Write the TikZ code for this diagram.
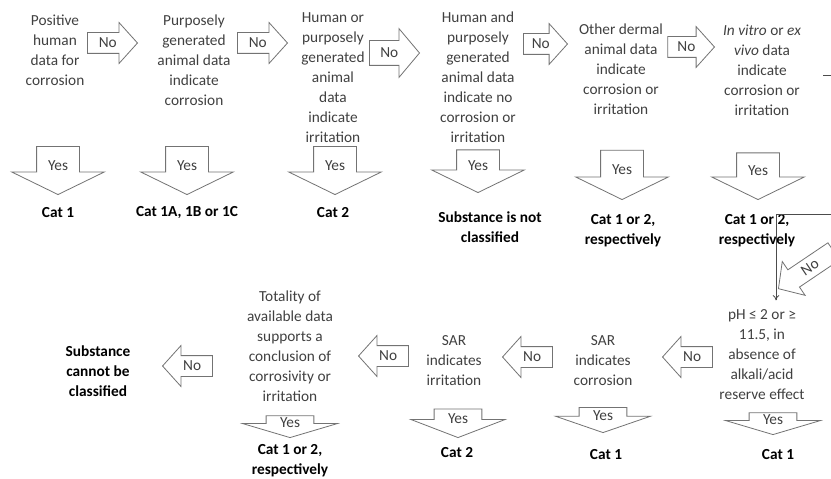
\documentclass[tikz,border=0pt]{standalone}
\usepackage{fontspec}
\setmainfont{Carlito}
\usetikzlibrary{shapes.arrows,arrows.meta}
\definecolor{qgray}{RGB}{64,64,64}
\definecolor{agray}{RGB}{115,115,115}
\newcommand\qfont{\fontsize{11.5pt}{15pt}\selectfont}

\begin{document}
\begin{tikzpicture}[x=0.75pt, y=-0.75pt,
    qtext/.style={align=center, text=qgray, font=\qfont, inner sep=0pt},
    restext/.style={align=center, font=\qfont\bfseries, inner sep=0pt},
    blockarrow/.style={single arrow, draw=agray, fill=white, line width=0.6pt,
        text=qgray, font=\qfont, align=center, text height=7pt, text depth=0pt, anchor=tip},
    noarrow/.style={blockarrow, text width=14pt, inner xsep=2pt, inner ysep=4pt,
        single arrow head extend=7.5pt, single arrow tip angle=96, minimum height=37.5pt},
    yesarrow/.style={blockarrow, shape border rotate=270, text width=16pt,
        inner xsep=7.75pt, inner ysep=2pt, single arrow head extend=18.75pt,
        single arrow tip angle=128, minimum height=36pt},
    lowyes/.style={blockarrow, shape border rotate=270, text width=16pt,
        inner xsep=9.6pt, inner ysep=2.5pt, single arrow head extend=17.6pt,
        single arrow tip angle=147}
]
    \useasboundingbox (0,0) rectangle (831,478);

    % questions, upper row
    \node (human) [qtext] at (55,50) {Positive\\human\\data for\\corrosion};
    \node (animal) [qtext] at (194,60) {Purposely\\generated\\animal data\\indicate\\corrosion};
    \node (irritation) [qtext] at (333,78) {Human or\\purposely\\generated\\animal\\data\\indicate\\irritation};
    \node (noeffect) [qtext] at (478,77) {Human and\\purposely\\generated\\animal data\\indicate no\\corrosion or\\irritation};
    \node (dermal) [qtext] at (621,69) {Other dermal\\animal data\\indicate\\corrosion or\\irritation};
    \node (invitro) [qtext] at (762,70) {\textit{In vitro} or \textit{ex}\\\textit{vivo} data\\indicate\\corrosion or\\irritation};

    % results, upper row
    \node (human_res) [restext] at (58,213) {Cat 1};
    \node (animal_res) [restext] at (187,213) {Cat 1A, 1B or 1C};
    \node (irritation_res) [restext] at (333,213) {Cat 2};
    \node (noeffect_res) [restext] at (490,227) {Substance is not\\classified};
    \node (dermal_res) [restext] at (623,231) {Cat 1 or 2,\\respectively};
    \node (invitro_res) [restext] at (757,231) {Cat 1 or 2,\\respectively};

    % questions, lower row
    \node (ph) [qtext] at (762,355) {pH ≤ 2 or ≥\\11.5, in\\absence of\\alkali/acid\\reserve effect};
    \node (sar_corr) [qtext] at (603,361) {SAR\\indicates\\corrosion};
    \node (sar_irr) [qtext] at (454,361) {SAR\\indicates\\irritation};
    \node (totality) [qtext] at (290,346) {Totality of\\available data\\supports a\\conclusion of\\corrosivity or\\irritation};
    \node (unclassified) [restext] at (98,371) {Substance\\cannot be\\classified};

    % results, lower row
    \node (ph_res) [restext] at (778,455) {Cat 1};
    \node (sar_corr_res) [restext] at (606,455) {Cat 1};
    \node (sar_irr_res) [restext] at (457,453) {Cat 2};
    \node (totality_res) [restext] at (290,461) {Cat 1 or 2,\\respectively};

    % no arrows
    \node (no1) [noarrow] at (138,43) {No};
    \node (no2) [noarrow] at (288,43) {No};
    \node (no3) [noarrow, inner ysep=5.5pt, single arrow head extend=9pt, single arrow tip angle=100] at (420,53) {No};
    \node (no4) [noarrow, minimum height=33pt] at (568,44) {No};
    \node (no5) [noarrow, minimum height=35pt] at (715,47) {No};
    \node (no6) [noarrow, shape border rotate=180] at (162,366) {No};
    \node (no7) [noarrow, shape border rotate=180] at (358,356) {No};
    \node (no8) [noarrow, shape border rotate=180] at (502,357) {No};
    \node (no9) [noarrow, shape border rotate=180] at (662,357) {No};
    \node (no10) [noarrow, shape border rotate=180, rotate=34, minimum height=50pt] at (778,289) {No};

    % yes arrows
    \node (yes1) [yesarrow] at (58,195) {Yes};
    \node (yes2) [yesarrow] at (187,195) {Yes};
    \node (yes3) [yesarrow] at (335,195) {Yes};
    \node (yes4) [yesarrow, minimum height=32pt] at (478,193) {Yes};
    \node (yes5) [yesarrow, minimum height=37pt] at (622,200) {Yes};
    \node (yes6) [yesarrow, minimum height=35pt] at (758,200) {Yes};
    \node (yes7) [lowyes, inner ysep=1.75pt] at (290,438) {Yes};
    \node (yes8) [lowyes, inner ysep=3.5pt, single arrow tip angle=138] at (458,438) {Yes};
    \node (yes9) [lowyes, single arrow tip angle=142] at (603,433) {Yes};
    \node (yes10) [lowyes, inner ysep=1.75pt] at (773,435) {Yes};

    % bent line into the pH question
    \coordinate (bend_in) at (831,214);
    \coordinate (bend) at (776,214);
    \draw[draw=black!70, line width=0.6pt, -{To[length=4pt,width=5pt]}, shorten >=7pt]
        (bend_in) -- (bend) -- (bend |- ph.north);
    \coordinate (dash_l) at (823,75);
    \coordinate (dash_r) at (831,75);
    \draw[draw=black!70, line width=0.6pt] (dash_l) -- (dash_r);
\end{tikzpicture}
\end{document}
